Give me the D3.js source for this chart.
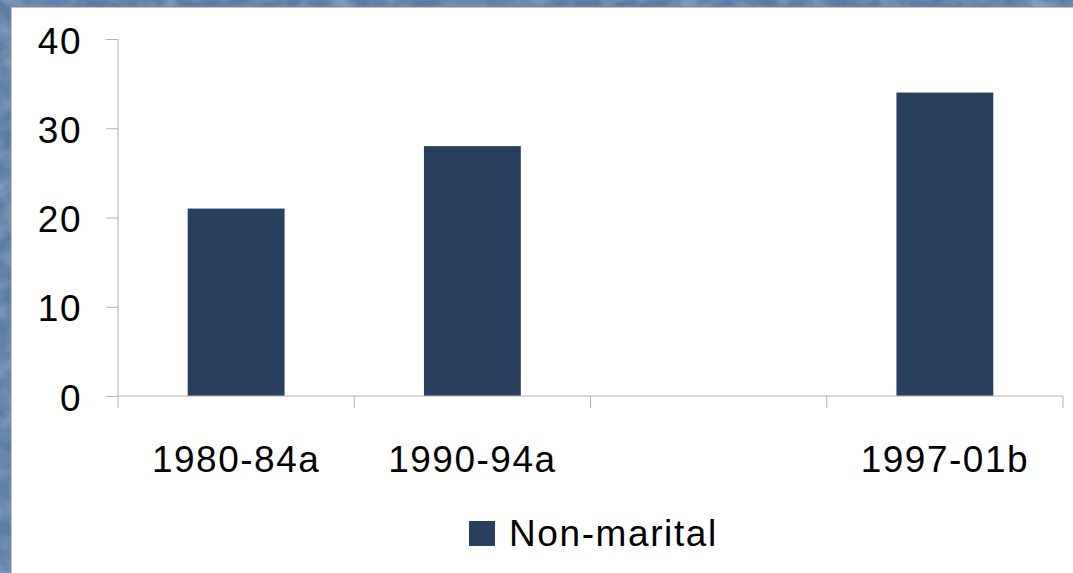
<!DOCTYPE html>
<html>
<head>
<meta charset="utf-8">
<script src="https://cdn.jsdelivr.net/npm/d3@7"></script>
<style>
  body { margin: 0; padding: 0; overflow: hidden; }
  text { font-family: "Liberation Sans", Arial, sans-serif; fill: #000; }
</style>
</head>
<body>
<script>
//chart data
var categories = ["1980-84a", "1990-94a", "", "1997-01b"];
var values = [21, 28, null, 34];
var yTicks = [0, 10, 20, 30, 40];
var seriesName = "Non-marital";

window.onload = function(){

    //SVG dimensions
    var w = 1073,
        h = 573;

    var svg = d3.select("body")
        .append("svg")
        .attr("width", w)
        .attr("height", h);

    //textured blue background
    var defs = svg.append("defs");
    var filter = defs.append("filter")
        .attr("id", "grain")
        .attr("x", 0).attr("y", 0)
        .attr("width", "100%").attr("height", "100%");
    filter.append("feTurbulence")
        .attr("type", "fractalNoise")
        .attr("baseFrequency", "0.04 0.05")
        .attr("numOctaves", 3)
        .attr("seed", 7);
    filter.append("feColorMatrix")
        .attr("values", "0 0 0 0 0.45  0 0 0 0 0.58  0 0 0 0 0.74  0 0 0 1.2 -0.4");

    svg.append("rect")
        .attr("width", w)
        .attr("height", h)
        .style("fill", "#5a7da6");
    svg.append("rect")
        .attr("width", w)
        .attr("height", h)
        .attr("filter", "url(#grain)")
        .style("opacity", 0.7);

    //white panel
    svg.append("rect")
        .attr("x", 11)
        .attr("y", 7)
        .attr("width", w)
        .attr("height", h)
        .style("fill", "#fff")
        .style("stroke", "#8a8a8a")
        .style("stroke-width", 1);

    //scales
    var x = d3.scaleBand()
        .domain(d3.range(categories.length))
        .range([118, 1063])
        .paddingInner(0.59)
        .paddingOuter(0.295);

    var y = d3.scaleLinear()
        .domain([0, 40])
        .range([396, 39]);

    //y axis
    var yAxis = d3.axisLeft(y)
        .tickValues(yTicks)
        .tickSize(12)
        .tickPadding(24);

    var gy = svg.append("g")
        .attr("class", "axis")
        .attr("transform", "translate(118,0)")
        .call(yAxis);
    gy.select(".domain").remove();
    gy.selectAll(".tick line").style("stroke", "#b3b3b3");
    gy.selectAll(".tick text")
        .style("font-size", "37px")
        .style("letter-spacing", "1.5px")
        .attr("dy", "0.38em");
    gy.append("line")
        .attr("x1", 0).attr("x2", 0)
        .attr("y1", y(40)).attr("y2", y(0))
        .style("stroke", "#b3b3b3");

    //bars
    var data = categories.map(function(c, i){ return {cat: c, i: i, v: values[i]}; })
        .filter(function(d){ return d.v != null; });

    svg.selectAll(".bar")
        .data(data)
        .enter()
        .append("rect")
        .attr("class", "bar")
        .attr("x", function(d){ return x(d.i); })
        .attr("width", x.bandwidth())
        .attr("y", function(d){ return y(d.v); })
        .attr("height", function(d){ return y(0) - y(d.v); })
        .style("fill", "#27405f");

    //x axis line and ticks at category boundaries
    var step = x.step();
    var gx = svg.append("g").attr("class", "xaxis");
    gx.append("line")
        .attr("x1", 118).attr("x2", 1063)
        .attr("y1", y(0)).attr("y2", y(0))
        .style("stroke", "#b3b3b3");
    gx.selectAll(".xtick")
        .data(d3.range(categories.length + 1))
        .enter()
        .append("line")
        .attr("class", "xtick")
        .attr("x1", function(d){ return 118 + d * step; })
        .attr("x2", function(d){ return 118 + d * step; })
        .attr("y1", y(0))
        .attr("y2", y(0) + 12)
        .style("stroke", "#b3b3b3");
    gx.selectAll(".xlabel")
        .data(categories)
        .enter()
        .append("text")
        .attr("class", "xlabel")
        .attr("text-anchor", "middle")
        .attr("x", function(d, i){ return x(i) + x.bandwidth() / 2; })
        .attr("y", 472)
        .style("font-size", "37px")
        .style("letter-spacing", "1.5px")
        .text(function(d){ return d; });

    //legend
    var legend = svg.append("g").attr("class", "legend");
    legend.append("rect")
        .attr("x", 469)
        .attr("y", 521)
        .attr("width", 26)
        .attr("height", 25)
        .style("fill", "#27405f");
    legend.append("text")
        .attr("x", 509)
        .attr("y", 546)
        .style("font-size", "37px")
        .style("letter-spacing", "1.6px")
        .text(seriesName);
};
</script>
</body>
</html>
